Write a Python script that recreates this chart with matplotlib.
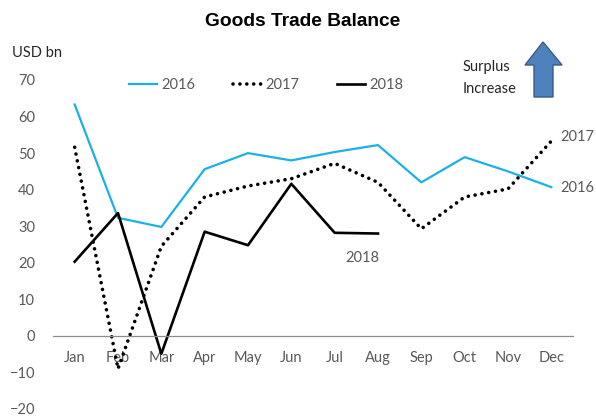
import matplotlib.pyplot as plt
from matplotlib.patches import Polygon

months = ["Jan", "Feb", "Mar", "Apr", "May", "Jun", "Jul", "Aug", "Sep", "Oct", "Nov", "Dec"]
bal_2016 = [63.3, 32.3, 29.8, 45.6, 50.0, 48.0, 50.3, 52.2, 42.0, 48.9, 45.0, 40.7]
bal_2017 = [51.6, -9.0, 24.5, 38.0, 41.0, 43.0, 47.2, 42.0, 29.3, 38.0, 40.2, 53.3]
bal_2018 = [20.3, 33.6, -4.9, 28.5, 24.8, 41.6, 28.2, 28.0]

plt.rcParams["font.family"] = ["Lato", "DejaVu Sans"]
grey = "#595959"
fs = 10.5

fig = plt.figure(figsize=(5.96, 4.16), dpi=100)
ax = fig.add_axes([53 / 596, 1 - 409 / 416, 520 / 596, 329 / 416])

x = list(range(len(months)))
ax.plot(x, bal_2016, color="#1CB0E8", lw=1.6, label="2016")
ax.plot(x, bal_2017, color="black", lw=2.6, linestyle=(0, (0.01, 1.9)),
        dash_capstyle="round", label="2017")
ax.plot(x[:len(bal_2018)], bal_2018, color="black", lw=1.9, label="2018")

ax.set_xlim(-0.5, 11.5)
ax.set_ylim(-20, 70)
ax.set_yticks(range(-20, 71, 10))
ax.set_xticks(x)
ax.set_xticklabels(months)

for s in ["top", "right", "left"]:
    ax.spines[s].set_visible(False)
ax.spines["bottom"].set_position(("data", 0))
ax.spines["bottom"].set_color("#8C8C8C")
ax.spines["bottom"].set_linewidth(0.9)
ax.tick_params(axis="both", length=0, labelsize=fs, labelcolor=grey)
ax.tick_params(axis="x", pad=11)
ax.tick_params(axis="y", pad=13)

ax.legend(loc="center", bbox_to_anchor=((266 - 53) / 520, (409 - 85) / 329),
          ncol=3, frameon=False, fontsize=fs, labelcolor=grey,
          handlelength=1.9, handletextpad=0.3, columnspacing=2.6)

ax.text(11.2, 54.3, "2017", color=grey, fontsize=fs, va="center", ha="left")
ax.text(11.2, 40.5, "2016", color=grey, fontsize=fs, va="center", ha="left")
ax.text(6.64, 21.2, "2018", color=grey, fontsize=fs, va="center", ha="center")

fig.text(303 / 596, 1 - 22 / 416, "Goods Trade Balance", ha="center", va="center",
         fontsize=13.8, fontweight="bold", family="Liberation Sans")
fig.text(12 / 596, 1 - 53 / 416, "USD bn", ha="left", va="center", fontsize=fs,
         color="#262626")
fig.text(463 / 596, 1 - 67 / 416, "Surplus", ha="left", va="center", fontsize=fs,
         color="#262626")
fig.text(463 / 596, 1 - 89 / 416, "Increase", ha="left", va="center", fontsize=fs,
         color="#262626")

arrow_px = [(543, 42), (562, 65), (553, 65), (553, 97), (534, 97), (534, 65), (525, 65)]
arrow = Polygon([(px / 596, 1 - py / 416) for px, py in arrow_px], closed=True,
                transform=fig.transFigure, facecolor="#4F81BD", edgecolor="#385D8A",
                lw=1.0)
fig.patches.append(arrow)

fig.savefig("out.png", dpi=100)
